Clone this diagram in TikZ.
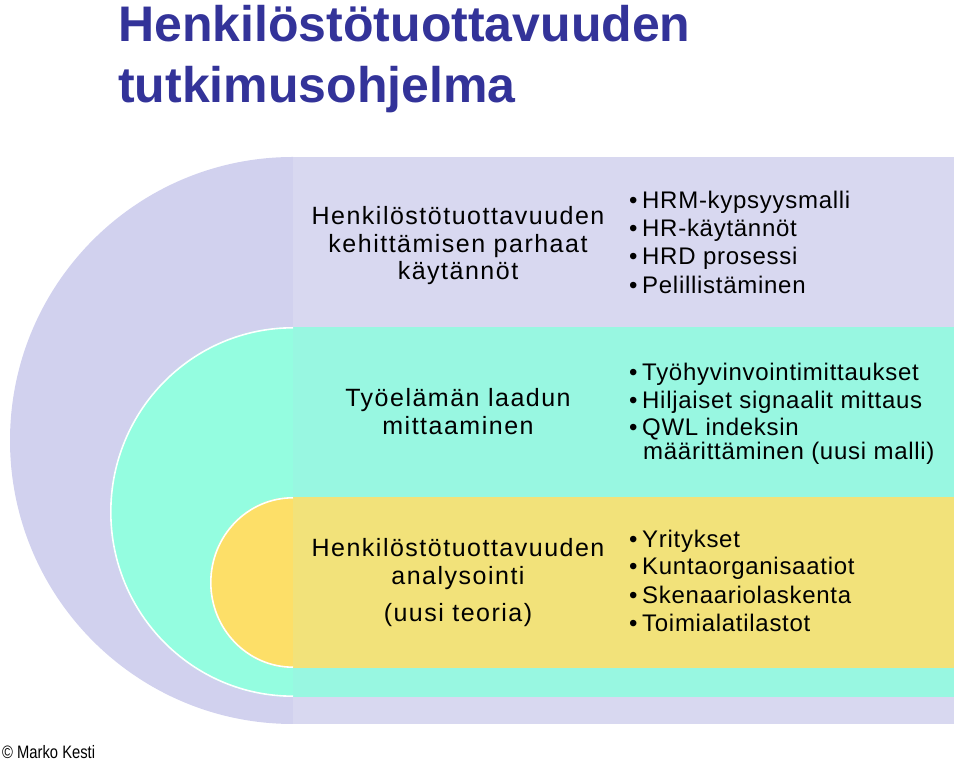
\documentclass[tikz,border=0pt]{standalone}
\usepackage{fontspec}
\usepackage{graphicx}
\setmainfont{Liberation Sans}
\newfontfamily\titlefont{Liberation Sans}
\newfontfamily\lefttxt[LetterSpace=6]{Liberation Sans}
\newfontfamily\righttxt[LetterSpace=3]{Liberation Sans}
\definecolor{lavArc}{HTML}{D1D1EE}
\definecolor{lavRect}{HTML}{D8D8F0}
\definecolor{aquaArc}{HTML}{94FDE0}
\definecolor{aquaRect}{HTML}{98F7E1}
\definecolor{yelArc}{HTML}{FDDF68}
\definecolor{yelRect}{HTML}{F2E27A}
\definecolor{titleblue}{HTML}{333399}
\tikzset{
  titletext/.style={anchor=base west, inner sep=0pt, text=titleblue, font=\titlefont\bfseries\fontsize{50}{55}\selectfont},
  lefttext/.style={anchor=base, inner sep=0pt, font=\lefttxt\fontsize{25}{30}\selectfont},
  bullettext/.style={anchor=base west, inner sep=0pt, font=\righttxt\fontsize{24}{28}\selectfont},
  arcline/.style={draw=white, line width=1.6pt}
}
\newcommand{\bul}{\textbullet\hspace{4.6pt}}
\begin{document}
\begin{tikzpicture}[x=1pt,y=1pt]
\useasboundingbox (0,0) rectangle (960,762);
% outer lavender band
\fill[lavArc] (293,605) arc[start angle=90,end angle=270,x radius=283,y radius=283.5] -- cycle;
\fill[lavRect] (293,38) rectangle (954,605);
% middle aqua band
\fill[aquaArc] (293,435) arc[start angle=90,end angle=270,x radius=183,y radius=185] -- cycle;
\fill[aquaRect] (293,65) rectangle (954,435);
\draw[arcline] (293,434.2) arc[start angle=90,end angle=270,x radius=182.2,y radius=184.2];
% inner yellow band
\fill[yelArc] (293,265) arc[start angle=90,end angle=270,x radius=83,y radius=85.5] -- cycle;
\fill[yelRect] (293,94) rectangle (954,265);
\draw[arcline] (293,264.2) arc[start angle=90,end angle=270,x radius=82.2,y radius=84.7];
% title
\node[titletext] (t1) at (118,720) {Henkilöstötuottavuuden};
\node[titletext] (t2) at (118,659) {tutkimusohjelma};
% lavender texts
\node[lefttext] (l1) at (458,537) {Henkilöstötuottavuuden};
\node[lefttext] (l2) at (458,509.5) {kehittämisen parhaat};
\node[lefttext] (l3) at (458,482) {käytännöt};
\node[bullettext] (b11) at (629,553.7) {\bul HRM-kypsyysmalli};
\node[bullettext] (b12) at (629,525.3) {\bul HR-käytännöt};
\node[bullettext] (b13) at (629,497) {\bul HRD prosessi};
\node[bullettext] (b14) at (629,468.7) {\bul Pelillistäminen};
% aqua texts
\node[lefttext] (m1) at (458,355.3) {Työelämän laadun};
\node[lefttext] (m2) at (458,327.7) {mittaaminen};
\node[bullettext] (b21) at (629,381.3) {\bul Työhyvinvointimittaukset};
\node[bullettext] (b22) at (629,353.7) {\bul Hiljaiset signaalit mittaus};
\node[bullettext] (b23) at (629,326) {\bul QWL indeksin};
\node[bullettext] (b24) at (643,302) {määrittäminen (uusi malli)};
% yellow texts
\node[lefttext] (y1) at (458,205.3) {Henkilöstötuottavuuden};
\node[lefttext] (y2) at (458,177.7) {analysointi};
\node[lefttext] (y3) at (458,140.3) {(uusi teoria)};
\node[bullettext] (b31) at (629,214.7) {\bul Yritykset};
\node[bullettext] (b32) at (629,187) {\bul Kuntaorganisaatiot};
\node[bullettext] (b33) at (629,158.7) {\bul Skenaariolaskenta};
\node[bullettext] (b34) at (629,130.3) {\bul Toimialatilastot};
% copyright
\node[anchor=base west, inner sep=0pt, font=\fontsize{18}{22}\selectfont] (c) at (2,3.5) {\scalebox{0.82}[1]{© Marko Kesti}};
\end{tikzpicture}
\end{document}
